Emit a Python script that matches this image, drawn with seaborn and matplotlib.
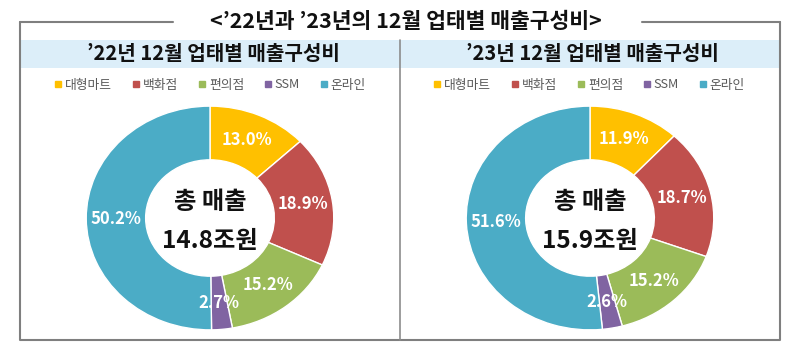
import matplotlib
matplotlib.use('Agg')
import matplotlib.pyplot as plt
import seaborn as sns
from matplotlib.patches import Rectangle
from matplotlib.lines import Line2D

# ---------------- data ----------------
categories = ['대형마트', '백화점', '편의점', 'SSM', '온라인']
share_2022 = [13.0, 18.9, 15.2, 2.7, 50.2]
share_2023 = [11.9, 18.7, 15.2, 2.6, 51.6]
totals = ['14.8조원', '15.9조원']
panel_titles = ['’22년 12월 업태별 매출구성비', '’23년 12월 업태별 매출구성비']
main_title = '<’22년과 ’23년의 12월 업태별 매출구성비>'
center_label = '총 매출'

sns.set_theme(style='white')
plt.rcParams['font.family'] = ['Noto Sans CJK KR', 'DejaVu Sans']
colors = sns.color_palette(['#FFC000', '#C0504D', '#9BBB59', '#8064A2', '#4BACC6'])

W, H = 800, 356
fig = plt.figure(figsize=(W / 100, H / 100), dpi=100)
fig.patch.set_facecolor('white')

# background axes in pixel coordinates
bg = fig.add_axes([0, 0, 1, 1])
bg.set_xlim(0, W)
bg.set_ylim(H, 0)
bg.axis('off')

border = '#7f7f7f'
# header band
bg.add_patch(Rectangle((20, 40), 760, 28, facecolor='#DCEEF9', edgecolor='none', zorder=1))
# box
bg.plot([20, 20, 780, 780], [22, 340, 340, 22], color=border, lw=1.5, zorder=2)
bg.plot([20, 173], [22, 22], color=border, lw=1.5, zorder=2)
bg.plot([642, 780], [22, 22], color=border, lw=1.5, zorder=2)
bg.plot([400, 400], [40, 340], color='#8c8c8c', lw=1.2, zorder=2)
bg.text(406, 22, main_title, ha='center', va='center', fontsize=15.5, fontweight='bold', color='#111111')

centers_x = [213, 592]
for cx, title in zip(centers_x, panel_titles):
    bg.text(cx, 54, title, ha='center', va='center', fontsize=14.5, fontweight='bold', color='#111111')
    handles = [Line2D([], [], marker='s', linestyle='', markersize=4, color=c) for c in colors]
    fig.legend(handles, categories, loc='center', bbox_to_anchor=(cx / W - 0.003, 1 - 85 / H),
               ncol=5, frameon=False, fontsize=9.2, handlelength=0.5, handletextpad=0.3,
               columnspacing=1.6, labelcolor='#595959')

rx, ry = 125, 113
cy = 218
centers_pie = [210, 590]
for cx, vals, total in zip(centers_pie, [share_2022, share_2023], totals):
    ax = fig.add_axes([(cx - rx) / W, 1 - (cy + ry) / H, 2 * rx / W, 2 * ry / H])
    wedges, texts, autotexts = ax.pie(
        vals, colors=colors, startangle=90, counterclock=False,
        wedgeprops=dict(width=0.48, edgecolor='white', linewidth=1),
        autopct='%.1f%%', pctdistance=0.76,
        textprops=dict(color='white', fontsize=12, fontweight='bold'))
    ax.set_aspect('auto')
    ax.set_xlim(-1.01, 1.01)
    ax.set_ylim(-1.01, 1.01)
    ax.axis('off')
    ax.text(0, 0.14, center_label, ha='center', va='center', fontsize=17.5, fontweight='bold', color='#111111')
    ax.text(0, -0.21, total, ha='center', va='center', fontsize=17.5, fontweight='bold', color='#111111')

fig.savefig('out.png', dpi=100, facecolor='white')
